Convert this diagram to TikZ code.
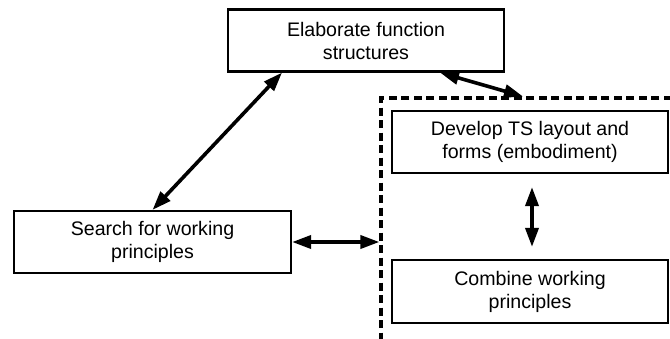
\documentclass[tikz,border=0pt]{standalone}
\usepackage{fontspec}
\setmainfont{Liberation Sans}
\usetikzlibrary{arrows.meta}
\begin{document}
\begin{tikzpicture}[x=1pt,y=-1pt,
  procbox/.style={draw=black, line width=2.2pt, fill=white, minimum width=276pt, minimum height=62pt, inner sep=0pt, align=center, font=\fontsize{19.6}{23}\selectfont},
  framebox/.style={draw=black, line width=3.2pt, dash pattern=on 8pt off 4.5pt, minimum width=292pt, minimum height=244pt, inner sep=0pt},
  link/.style={line width=3.6pt, {Triangle[length=19pt,width=13pt]}-{Triangle[length=19pt,width=13pt]}}]
\useasboundingbox (0,0) rectangle (670,338);
\node[framebox] (frame) at (527,220) {};
\node[procbox] (elab) at (366,40.5) {Elaborate function\\structures};
\node[procbox, minimum width=277pt] (search) at (152.5,242) {Search for working\\principles};
\node[procbox] (dev) at (530,142) {Develop TS layout and\\forms (embodiment)};
\node[procbox, minimum height=63pt] (comb) at (530,291.5) {Combine working\\principles};
\draw[link] (search.north) -- ([xshift=-84pt]elab.south);
\draw[link] ([xshift=74pt]elab.south) -- ([xshift=-4pt]frame.north);
\draw[link] (search.east) -- (frame.west |- search.east);
\draw[link, shorten <=13pt, shorten >=12pt] ([xshift=2pt]dev.south) -- ([xshift=2pt]comb.north);
\end{tikzpicture}
\end{document}
